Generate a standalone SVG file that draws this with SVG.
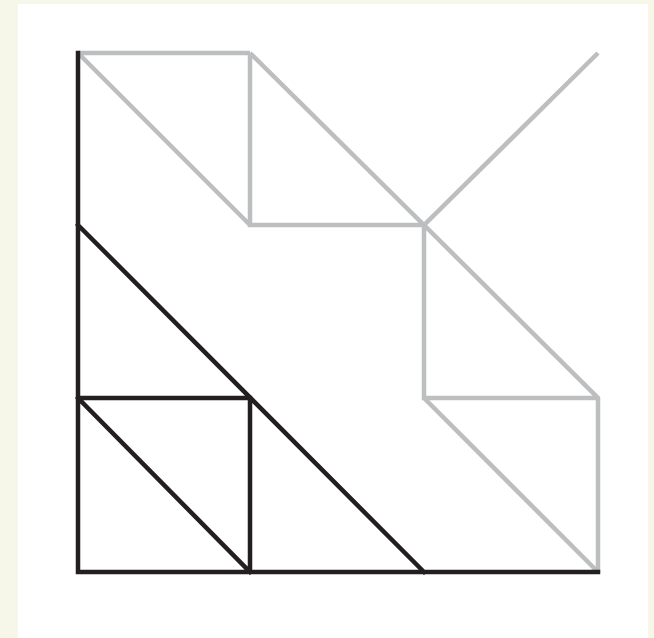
<svg xmlns="http://www.w3.org/2000/svg" width="654" height="638" viewBox="0 0 654 638">
<style>
.k{stroke:#231f20;stroke-width:4.5;fill:none;stroke-linecap:square}
.g{stroke:#bcbec0;stroke-width:4.5;fill:none;stroke-linecap:butt}
</style>
<rect x="0" y="0" width="654" height="638" fill="#f6f7e9"/>
<rect x="18" y="4" width="630" height="640" fill="#ffffff"/>
<g id="connectors">
<g id="grey">
<path class="g" d="M78,53H250M80,55L250,225M250,53V225H424M250,53L424,225L598,53M424,225L598,398V572M424,225V398H598M424,398L598,572"/>
</g>
<g id="black">
<path class="k" d="M78,53V572H598M78,225L424,572M78,398H250V572M78,398L250,572"/>
</g>
</g>
</svg>
